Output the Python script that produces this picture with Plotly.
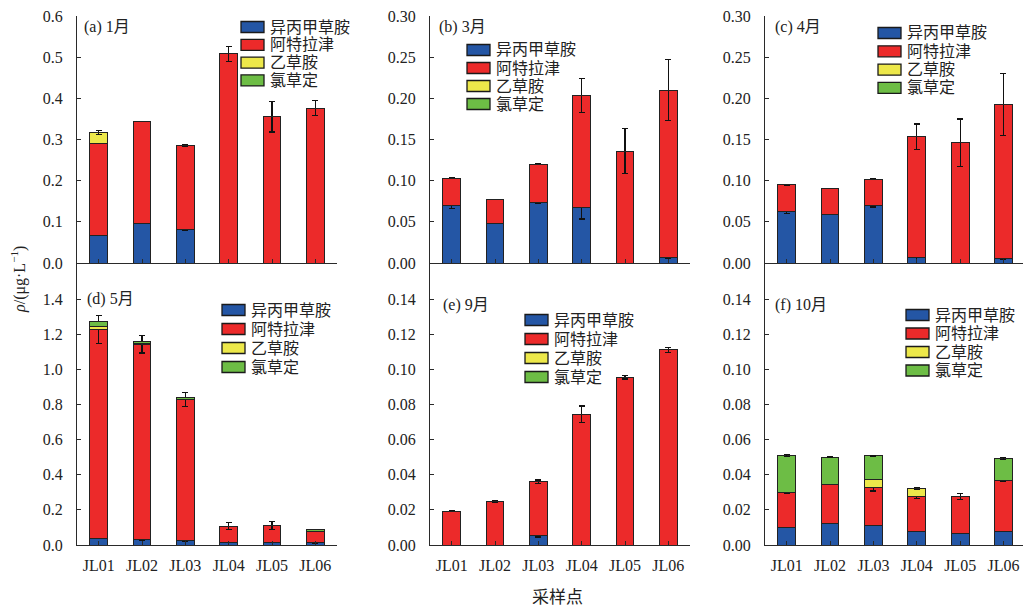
import numpy as np
import plotly.graph_objects as go

W, H = 1023, 611

sites = ["JL01", "JL02", "JL03", "JL04", "JL05", "JL06"]
series_names = ["异丙甲草胺", "阿特拉津", "乙草胺", "氯草定"]
series_colors = ["#2456a5", "#ec2a2a", "#ede84a", "#6dbd45"]
panel_titles = ["(a) 1月", "(b) 3月", "(c) 4月", "(d) 5月", "(e) 9月", "(f) 10月"]

# ---- values (μg/L), stacked segments per site ----
jan_blue = [0.067, 0.095, 0.082, 0, 0, 0]
jan_red = [0.224, 0.248, 0.203, 0.508, 0.355, 0.376]
jan_yellow = [0.026, 0, 0, 0, 0, 0]
jan_green = [0, 0, 0, 0.002, 0, 0]
jan_blue_err = [None, None, 0.002, None, None, None]
jan_red_err = [None, None, 0.002, 0.018, 0.037, 0.018]
jan_yellow_err = [0.005, None, None, None, None, None]
jan_green_err = [None, None, None, None, None, None]

mar_blue = [0.070, 0.048, 0.074, 0.0675, 0, 0.007]
mar_red = [0.033, 0.029, 0.046, 0.136, 0.136, 0.203]
mar_yellow = [0, 0, 0, 0, 0, 0]
mar_green = [0, 0, 0, 0, 0, 0]
mar_blue_err = [0.0035, None, 0.0015, 0.014, None, 0.002]
mar_red_err = [0.0005, 0.0003, 0.0005, 0.021, 0.027, 0.037]
mar_yellow_err = [None] * 6
mar_green_err = [None] * 6

apr_blue = [0.062, 0.059, 0.0695, 0.007, 0, 0.006]
apr_red = [0.033, 0.0315, 0.0323, 0.1465, 0.146, 0.1867]
apr_yellow = [0, 0, 0, 0, 0, 0]
apr_green = [0, 0, 0, 0, 0, 0]
apr_blue_err = [0.0015, None, 0.0015, 0.010, None, 0.002]
apr_red_err = [0.0005, 0.0003, 0.0003, 0.0153, 0.029, 0.0376]
apr_yellow_err = [None] * 6
apr_green_err = [None] * 6

may_blue = [0.038, 0.032, 0.026, 0.015, 0.015, 0.013]
may_red = [1.190, 1.111, 0.803, 0.091, 0.095, 0.066]
may_yellow = [0.015, 0.004, 0, 0, 0, 0]
may_green = [0.030, 0.013, 0.013, 0, 0, 0.010]
may_blue_err = [0.003, 0.003, 0.003, 0.003, 0.003, 0.003]
may_red_err = [0.08, 0.05, 0.04, 0.02, 0.023, 0.004]
may_yellow_err = [None] * 6
may_green_err = [None] * 6

sep_blue = [0, 0, 0.0055, 0, 0, 0]
sep_red = [0.0193, 0.0248, 0.0305, 0.0743, 0.0955, 0.111]
sep_yellow = [0, 0, 0, 0, 0, 0]
sep_green = [0, 0, 0, 0, 0, 0]
sep_blue_err = [None, None, 0.001, None, None, None]
sep_red_err = [0.0003, 0.0005, 0.001, 0.0048, 0.001, 0.0015]
sep_yellow_err = [None] * 6
sep_green_err = [None] * 6

oct_blue = [0.0102, 0.0121, 0.0112, 0.0079, 0.0068, 0.0076]
oct_red = [0.0197, 0.0225, 0.0215, 0.0197, 0.0208, 0.0289]
oct_yellow = [0, 0, 0.0046, 0.0046, 0, 0]
oct_green = [0.021, 0.0154, 0.0136, 0, 0, 0.0127]
oct_blue_err = [None, None, 0.0003, None, 0.0003, None]
oct_red_err = [0.0003, None, 0.002, 0.001, 0.0015, 0.0005]
oct_yellow_err = [None, None, None, 0.0003, None, None]
oct_green_err = [0.0005, 0.0002, 0.0002, None, None, 0.0005]

y_tickvals = [
    [0, 0.1, 0.2, 0.3, 0.4, 0.5, 0.6],
    [0, 0.05, 0.10, 0.15, 0.20, 0.25, 0.30],
    [0, 0.05, 0.10, 0.15, 0.20, 0.25, 0.30],
    [0, 0.2, 0.4, 0.6, 0.8, 1.0, 1.2, 1.4],
    [0, 0.02, 0.04, 0.06, 0.08, 0.10, 0.12, 0.14],
    [0, 0.02, 0.04, 0.06, 0.08, 0.10, 0.12, 0.14],
]
y_tickformat = [".1f", ".2f", ".2f", ".1f", ".2f", ".2f"]
y_ranges = [[0, 0.6], [0, 0.30], [0, 0.30], [0, 1.605], [0, 0.1605], [0, 0.1605]]

panels = [
    ([jan_blue, jan_red, jan_yellow, jan_green], [jan_blue_err, jan_red_err, jan_yellow_err, jan_green_err]),
    ([mar_blue, mar_red, mar_yellow, mar_green], [mar_blue_err, mar_red_err, mar_yellow_err, mar_green_err]),
    ([apr_blue, apr_red, apr_yellow, apr_green], [apr_blue_err, apr_red_err, apr_yellow_err, apr_green_err]),
    ([may_blue, may_red, may_yellow, may_green], [may_blue_err, may_red_err, may_yellow_err, may_green_err]),
    ([sep_blue, sep_red, sep_yellow, sep_green], [sep_blue_err, sep_red_err, sep_yellow_err, sep_green_err]),
    ([oct_blue, oct_red, oct_yellow, oct_green], [oct_blue_err, oct_red_err, oct_yellow_err, oct_green_err]),
]

# ---- layout geometry (pixels) ----
def px(x):
    return x / W

def py(y):
    return 1 - y / H

x_dom_px = [(77, 337), (430, 690), (765, 1023)] * 2
x_ranges = [[-0.5, 5.5], [-0.5, 5.5], [-0.5, 5.45]] * 2
y_dom_px = [(16, 263)] * 3 + [(263, 545)] * 3
# legend: swatch left x, first row center y, row step
legend_px = [(241, 27, 17.8), (467, 50, 18), (878, 33, 18.3),
             (222, 310, 19), (525, 320, 19), (906, 315, 18.5)]
title_px = [(82, 27), (437, 27), (773, 27), (85, 299), (441, 305), (773, 305)]

SERIF = "Liberation Serif, Times New Roman, serif"
CJK = "Liberation Serif, Noto Sans CJK SC, serif"
AX = "#2a2a2a"

fig = go.Figure()
layout = dict(
    width=W, height=H, margin=dict(l=0, r=0, t=0, b=0),
    paper_bgcolor="white", plot_bgcolor="white",
    barmode="stack", showlegend=False, annotations=[], shapes=[],
)

for p, (vals, errs) in enumerate(panels):
    sfx = "" if p == 0 else str(p + 1)
    xa, ya = "x" + sfx, "y" + sfx
    for s in range(4):
        e = np.array([np.nan if v is None else v for v in errs[s]], dtype=float)
        fig.add_trace(go.Bar(
            x=sites, y=vals[s], name=series_names[s], xaxis=xa, yaxis=ya,
            width=0.41, showlegend=False,
            marker=dict(color=series_colors[s], line=dict(color="#222222", width=1)),
            error_y=dict(type="data", array=e, color="#111111", thickness=1.2, width=3),
        ))
    x0, x1 = x_dom_px[p]
    yt, yb = y_dom_px[p]
    bottom_row = p >= 3
    layout["xaxis" + sfx] = dict(
        domain=[px(x0), px(x1)], range=x_ranges[p], type="category", anchor=ya,
        showline=True, linecolor=AX, linewidth=1.3, ticks="inside", ticklen=4,
        tickcolor=AX, showgrid=False, zeroline=False, showticklabels=bottom_row,
        tickfont=dict(family=SERIF, size=16, color="#222"), ticklabelstandoff=6,
        automargin=False,
    )
    layout["yaxis" + sfx] = dict(
        domain=[py(yb), py(yt)], range=y_ranges[p], anchor=xa,
        tickvals=y_tickvals[p], tickformat=y_tickformat[p],
        showline=True, linecolor=AX, linewidth=1.3, ticks="inside", ticklen=4,
        tickcolor=AX, showgrid=False, zeroline=False,
        tickfont=dict(family=SERIF, size=16, color="#222"), ticklabelstandoff=10,
        automargin=False,
    )
    # legend (swatch + label per series)
    lx, ly0, step = legend_px[p]
    for s in range(4):
        cy = ly0 + s * step
        layout["shapes"].append(dict(
            type="rect", xref="paper", yref="paper",
            x0=px(lx), x1=px(lx + 23), y0=py(cy + 5.5), y1=py(cy - 5.5),
            fillcolor=series_colors[s], line=dict(color="#1a1a1a", width=1.3),
        ))
        layout["annotations"].append(dict(
            text=series_names[s], x=px(lx + 27), y=py(cy), xref="paper", yref="paper",
            xanchor="left", yanchor="middle", showarrow=False,
            font=dict(family=CJK, size=16, color="#222"),
        ))
    tx, ty = title_px[p]
    layout["annotations"].append(dict(
        text=panel_titles[p], x=px(tx), y=py(ty), xref="paper", yref="paper",
        xanchor="left", yanchor="middle", showarrow=False,
        font=dict(family=CJK, size=16, color="#222"),
    ))

layout["annotations"].append(dict(
    text="<i>ρ</i>/(μg·L<sup>−1</sup>)", x=px(18), y=py(280), xref="paper", yref="paper",
    textangle=-90, showarrow=False, xanchor="center", yanchor="middle",
    font=dict(family=SERIF, size=16, color="#222"),
))
layout["annotations"].append(dict(
    text="采样点", x=px(557), y=py(597), xref="paper", yref="paper",
    showarrow=False, xanchor="center", yanchor="middle",
    font=dict(family=CJK, size=17, color="#222"),
))

fig.update_layout(**layout)
fig.write_html("out.html")
